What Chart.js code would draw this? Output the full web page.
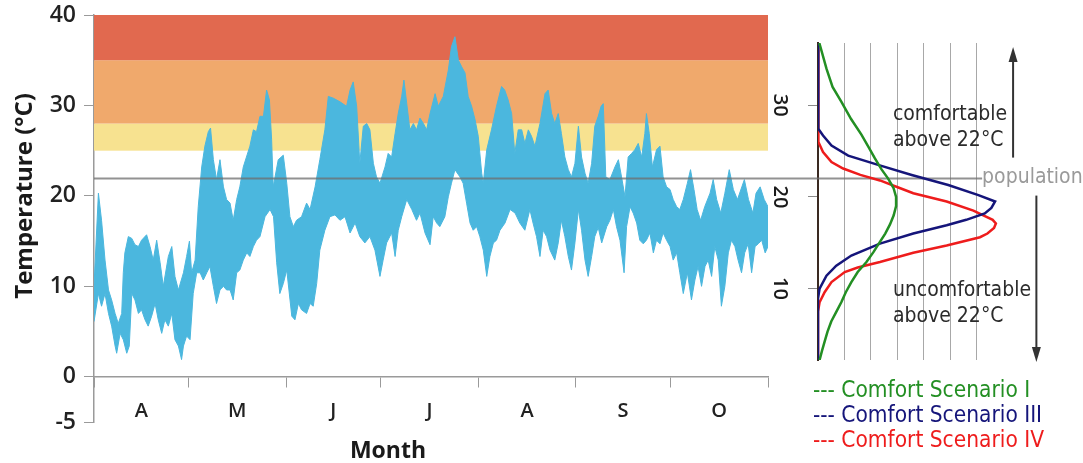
<!DOCTYPE html>
<html>
<head>
<meta charset="utf-8">
<title>Daily temperature range and comfort scenarios</title>
<script src="https://cdn.jsdelivr.net/npm/chart.js@4.4.0/dist/chart.umd.min.js"></script>
<style>
  html, body { margin: 0; padding: 0; background: #ffffff; }
  #wrap { position: relative; width: 1083px; height: 463px; }
  #wrap canvas { position: absolute; left: 0; top: 0; }
  #dist { pointer-events: none; }
</style>
</head>
<body>
<div id="wrap">
  <canvas id="main" width="1083" height="463"></canvas>
  <canvas id="dist" width="1083" height="463"></canvas>
</div>
<script>
// ---- Season axis: days counted from 1 April ----
const monthStartDays = [0, 30, 61, 91, 122, 153, 183, 214];
const monthLabels = ['A', 'M', 'J', 'J', 'A', 'S', 'O'];
const temperatureTicks = [-5, 0, 10, 20, 30, 40];
// comfort bands (°C): 25–28, 28–35, 35–40
const bandLimits = [25, 28, 35, 40];
const referenceTemp = 22;

// ---- Daily maximum envelope ----
const upperDays = [0,1.4,2.4,3.5,4.6,5.6,6.7,7.7,8.8,9.3,9.8,10.9,12.0,13.0,14.1,15.1,16.7,17.8,18.8,19.9,21.0,22.0,23.6,24.7,25.7,26.8,28.4,29.4,30.3,31.0,32.1,33.1,34.2,35.2,36.3,37.0,37.9,38.9,40.0,41.1,42.1,43.2,44.2,45.3,46.3,47.4,49.5,50.6,51.6,52.7,53.8,54.8,55.7,56.4,56.9,58.5,60.1,61.2,62.2,63.3,64.3,65.9,67.5,68.6,70.2,71.7,73.3,74.4,76.0,78.1,80.2,81.3,82.3,83.4,84.4,85.5,86.6,87.6,88.7,89.7,90.8,92.4,93.4,94.5,95.6,96.6,97.7,98.4,99.3,100.3,101.4,102.4,103.5,104.6,105.6,106.7,108.3,109.3,110.9,112.5,113.5,114.6,115.7,116.7,117.8,118.8,119.9,121.0,122.0,123.1,123.6,124.7,126.2,127.8,129.4,130.4,131.5,132.6,133.6,134.7,135.8,136.8,137.9,138.9,140.0,141.6,143.2,144.2,145.3,146.3,147.4,148.4,149.5,150.6,151.6,152.7,153.8,154.8,155.9,156.9,158.0,159.0,160.1,161.0,161.7,162.5,163.8,165.4,166.5,167.5,168.6,169.6,170.7,171.7,172.8,173.9,174.9,175.4,176.3,177.3,178.6,179.7,180.7,181.8,182.9,183.9,185.0,186.0,187.1,188.4,189.4,190.5,191.5,192.6,193.9,195.6,196.6,197.7,199.0,200.3,201.7,203.0,204.3,205.7,206.5,207.8,209.2,210.2,211.5,212.8,214.0];
const upperTemps = [10.0,20.3,17.3,12.9,9.6,8.5,7.0,5.9,7.0,11.5,13.7,15.5,15.3,14.6,14.4,15.1,15.7,14.4,12.9,15.1,12.6,10.0,13.3,14.4,11.1,9.6,11.5,13.3,15.0,11.5,12.9,18.8,23.2,25.5,27.1,27.5,24.0,21.8,24.0,21.0,19.6,19.2,17.3,19.6,21.0,23.2,25.5,27.3,27.1,28.8,28.8,31.7,30.6,26.2,21.0,24.0,24.5,21.4,17.7,16.6,17.3,17.7,19.2,18.5,21.0,24.0,27.3,31.0,30.8,30.4,29.9,31.7,32.6,29.9,23.6,27.7,28.0,27.3,23.6,22.1,21.4,23.2,24.7,24.3,26.9,29.1,31.0,32.8,30.2,27.3,28.0,27.3,28.6,28.0,27.3,29.1,31.3,29.9,31.0,33.9,36.5,37.6,35.0,34.3,33.6,31.0,29.9,28.4,26.6,22.5,21.4,25.1,27.3,29.9,32.1,31.7,30.6,29.1,24.7,27.3,27.3,25.8,27.3,26.6,25.5,28.0,31.3,31.7,29.1,28.0,29.1,26.9,24.3,22.9,22.1,23.6,27.7,24.3,22.5,21.4,23.6,27.7,28.8,29.9,30.2,22.1,21.8,23.2,24.0,22.1,19.9,24.3,24.7,25.1,25.8,24.3,26.9,29.1,26.9,23.2,25.1,25.5,22.1,21.0,20.7,19.6,18.8,18.5,19.6,21.4,22.9,20.7,18.5,17.3,18.8,20.3,21.8,19.6,18.1,20.3,22.9,20.7,19.6,21.0,21.8,19.6,18.1,20.3,21.0,19.6,18.8];

// ---- Daily minimum envelope ----
const lowerDays = [0,1.4,2.4,3.5,4.6,5.6,6.7,7.2,8.3,9.3,10.4,11.2,12.0,13.0,14.1,15.1,16.2,17.2,18.3,19.4,20.4,21.5,22.5,23.6,24.7,25.7,26.8,27.8,28.4,29.4,30.5,31.5,32.6,33.7,34.7,35.8,36.8,37.9,38.9,40.0,41.1,42.1,43.2,44.2,45.3,46.3,47.4,48.5,49.5,50.6,51.6,52.7,54.3,55.9,57.0,58.0,59.0,60.1,61.2,62.8,63.8,64.9,65.9,67.5,68.6,69.6,70.7,71.7,73.3,74.9,76.5,78.1,79.7,81.3,82.9,84.4,86.0,87.6,89.2,90.8,91.8,92.9,94.5,95.6,96.6,97.7,99.3,100.9,102.4,103.5,105.1,106.7,107.7,108.8,109.8,111.4,112.5,113.5,114.6,116.2,117.2,118.3,119.4,120.4,121.5,122.5,123.6,124.7,125.7,126.8,127.8,128.9,130.5,132.1,133.7,135.2,136.8,138.4,139.4,140.5,141.6,142.6,143.7,144.8,146.3,147.4,148.4,149.5,150.6,151.6,152.7,153.8,154.8,155.9,156.9,158.0,159.0,160.1,161.2,162.8,163.8,164.9,165.9,167.0,168.3,169.1,170.2,171.2,172.3,173.3,174.4,175.4,176.5,177.6,178.6,179.7,180.7,181.8,182.9,183.9,185.0,186.0,187.1,188.4,189.7,190.8,191.8,192.9,194.0,195.0,196.1,197.1,198.2,199.2,200.3,201.4,202.4,203.5,204.5,205.6,206.6,207.7,208.8,209.9,210.9,212.0,213.1,214.0];
const lowerTemps = [6.1,9.2,7.8,9.2,7.0,5.6,3.4,2.6,4.8,4.1,2.6,3.4,9.2,8.5,7.0,7.4,6.3,5.6,6.7,8.1,6.3,4.8,6.3,5.6,7.0,4.1,3.4,1.9,3.4,4.5,4.1,9.2,11.5,11.5,10.7,11.5,12.2,10.0,8.1,9.6,10.0,9.6,9.6,8.5,11.5,11.8,12.9,13.7,13.3,14.4,15.1,15.5,17.7,18.5,17.7,12.6,9.2,10.3,11.8,6.7,6.3,8.1,7.4,7.0,8.1,7.8,10.3,14.0,16.2,17.7,17.9,17.3,17.7,15.9,17.0,15.5,14.8,15.5,14.0,11.1,12.9,14.8,15.9,13.3,16.2,17.7,19.6,18.5,17.3,18.1,15.9,14.6,17.7,17.0,16.6,17.7,19.9,21.4,22.9,22.1,21.4,19.2,17.0,16.2,16.6,15.5,14.0,11.1,13.3,14.8,15.1,16.2,17.0,18.5,18.1,17.0,16.2,18.5,17.0,15.5,13.3,16.2,15.5,14.0,12.9,14.8,17.3,15.5,13.3,11.8,14.8,18.5,16.2,12.9,11.1,13.3,15.5,16.5,14.8,16.6,17.3,18.5,16.6,15.1,11.5,16.6,18.8,18.1,17.0,15.1,14.7,15.1,15.9,13.7,15.1,14.7,15.9,15.1,14.4,12.9,13.7,11.5,9.2,11.5,8.5,10.7,12.2,10.0,12.2,12.9,11.1,14.4,12.9,7.8,10.0,13.7,15.1,14.4,12.9,11.5,13.7,14.7,11.5,14.4,14.7,15.1,13.7,14.4];

// ---- Population distribution over indoor temperature (share per °C) ----
const scenarioITemps  = [36.8,34.0,32.0,30.4,28.5,26.8,25.5,24.2,23.0,22.0,21.0,20.0,19.0,18.0,17.0,16.0,15.1,14.0,12.9,11.8,10.7,9.6,8.5,7.4,6.4,5.3,4.2,3.2,2.2];
const scenarioIShare  = [0.05,0.32,0.55,0.88,1.25,1.64,1.9,2.15,2.4,2.65,2.85,2.95,2.95,2.86,2.72,2.54,2.34,2.1,1.83,1.5,1.26,1.05,0.88,0.68,0.5,0.36,0.25,0.15,0.06];
const scenarioIIITemps = [36.8,28.0,27.45,26.7,25.6,24.5,23.5,22.4,21.3,20.2,19.5,18.8,18.2,17.5,16.9,16.0,14.9,13.6,12.5,11.4,10.0,8.9,2.2];
const scenarioIIIShare = [0,0,0.02,0.19,0.51,1.14,2.27,3.54,4.92,6.06,6.69,6.55,6.3,5.6,4.86,3.6,2.34,1.26,0.69,0.32,0.06,0,0];
const scenarioIVTemps  = [36.8,27.0,26.0,24.9,23.8,23.1,22.4,21.8,21.0,20.4,19.5,18.5,17.5,17.1,16.6,16.0,15.6,14.7,13.9,12.9,12.3,11.8,10.7,9.6,8.5,7.5,2.2];
const scenarioIVShare  = [0,0,0.03,0.19,0.51,0.95,1.6,2.34,3.06,3.6,4.86,5.87,6.6,6.72,6.65,6.4,6.12,4.86,3.6,2.34,1.5,1.01,0.51,0.25,0.06,0,0];

const monthMidDays = monthLabels.map((_, i) => (monthStartDays[i] + monthStartDays[i + 1]) / 2);
const toPoints = (xs, ys) => xs.map((x, i) => ({ x: x, y: ys[i] }));

const AXIS_GREY = '#9a9a9a';
const TICK_FONT = { family: '"Open Sans", "Liberation Sans", sans-serif', size: 23, weight: '600' };
const NOTE_FONT = '21px "DejaVu Sans Condensed", "DejaVu Sans", sans-serif';
const LEGEND_FONT = '22.5px "DejaVu Sans Condensed", "DejaVu Sans", sans-serif';

// coloured comfort bands behind the temperature range
const bandsPlugin = {
  id: 'comfortBands',
  beforeDatasetsDraw(chart) {
    const { ctx, chartArea, scales: { y } } = chart;
    const colours = ['#f7e290', '#f0a96c', '#e1694f'];
    ctx.save();
    for (let i = 0; i < bandLimits.length - 1; i++) {
      const top = y.getPixelForValue(bandLimits[i + 1]);
      const bottom = y.getPixelForValue(bandLimits[i]);
      ctx.fillStyle = colours[i];
      ctx.fillRect(chartArea.left, top, chartArea.right - chartArea.left, bottom - top);
    }
    ctx.restore();
  }
};

// axis titles
const titlesPlugin = {
  id: 'axisTitles',
  afterDraw(chart) {
    const { ctx, chartArea, scales: { y } } = chart;
    ctx.save();
    ctx.fillStyle = '#1a1a1a';
    ctx.font = 'bold 24px "Open Sans", "Liberation Sans", sans-serif';
    ctx.textAlign = 'center';
    ctx.textBaseline = 'middle';
    const midY = (y.getPixelForValue(40) + y.getPixelForValue(0)) / 2;
    ctx.translate(25, midY);
    ctx.rotate(-Math.PI / 2);
    ctx.fillText('Temperature (°C)', 0, 0);
    ctx.restore();

    ctx.save();
    ctx.fillStyle = '#1a1a1a';
    ctx.font = 'bold 23px "Open Sans", "Liberation Sans", sans-serif';
    ctx.textAlign = 'center';
    ctx.textBaseline = 'alphabetic';
    ctx.fillText('Month', chartArea.left + 294, 458);
    ctx.restore();
  }
};

const mainChart = new Chart(document.getElementById('main'), {
  type: 'line',
  data: {
    datasets: [
      {
        label: 'Daily maximum',
        data: toPoints(upperDays, upperTemps),
        fill: '+1',
        backgroundColor: '#4bb7de',
        borderColor: '#4bb7de',
        borderWidth: 1,
        pointRadius: 0,
        tension: 0
      },
      {
        label: 'Daily minimum',
        data: toPoints(lowerDays, lowerTemps),
        fill: false,
        borderColor: '#4bb7de',
        borderWidth: 1,
        pointRadius: 0,
        tension: 0
      }
    ]
  },
  options: {
    responsive: false,
    animation: false,
    events: [],
    layout: { padding: { top: 15, bottom: 41, left: 0, right: 315 } },
    plugins: { legend: { display: false }, tooltip: { enabled: false } },
    scales: {
      x: {
        type: 'linear',
        min: 0,
        max: 214,
        position: { y: 0 },
        afterFit(scale) { scale.height = 0; scale.paddingLeft = 0; scale.paddingRight = 0; },
        afterBuildTicks(scale) {
          scale.ticks = monthStartDays.concat(monthMidDays).sort((a, b) => a - b).map(v => ({ value: v }));
        },
        ticks: {
          autoSkip: false,
          maxRotation: 0,
          padding: 13,
          color: '#222222',
          font: { family: '"Open Sans", "Liberation Sans", sans-serif', size: 20, weight: '600' },
          callback(value) {
            const i = monthMidDays.indexOf(value);
            return i >= 0 ? monthLabels[i] : '';
          }
        },
        grid: {
          drawOnChartArea: false,
          drawTicks: true,
          tickLength: 10,
          tickWidth: 1,
          tickColor: (ctx) => (ctx.tick && monthStartDays.includes(ctx.tick.value)) ? AXIS_GREY : 'rgba(0,0,0,0)'
        },
        border: { display: true, color: AXIS_GREY, width: 1.5 }
      },
      y: {
        type: 'linear',
        min: -5,
        max: 40,
        afterFit(scale) { scale.width = 94; scale.paddingTop = 0; scale.paddingBottom = 0; },
        afterBuildTicks(scale) { scale.ticks = temperatureTicks.map(v => ({ value: v })); },
        ticks: { color: '#222222', font: TICK_FONT, padding: 8 },
        grid: { drawOnChartArea: false, drawTicks: true, tickLength: 10, tickColor: AXIS_GREY },
        border: { display: true, color: AXIS_GREY, width: 1.5 }
      }
    }
  },
  plugins: [bandsPlugin, titlesPlugin]
});

// ---- distribution panel ----
const distPlugin = {
  id: 'distAnnotations',
  beforeDatasetsDraw(chart) {
    const { ctx, scales: { x, y } } = chart;
    const refY = y.getPixelForValue(referenceTemp);
    const endX = x.getPixelForValue(6.2);
    ctx.save();
    ctx.strokeStyle = 'rgba(110,110,110,0.75)';
    ctx.lineWidth = 2;
    ctx.beginPath();
    ctx.moveTo(mainChart.chartArea.left, refY);
    ctx.lineTo(endX, refY);
    ctx.stroke();
    ctx.fillStyle = '#9a9a9a';
    ctx.font = NOTE_FONT;
    ctx.textAlign = 'left';
    ctx.textBaseline = 'alphabetic';
    ctx.fillText('population', endX, refY + 4);
    ctx.restore();
  },
  afterDraw(chart) {
    const { ctx, chartArea, scales: { x, y } } = chart;
    const refY = y.getPixelForValue(referenceTemp);
    ctx.save();

    // rotated temperature labels
    ctx.fillStyle = '#1a1a1a';
    ctx.font = '600 20px "Open Sans", "Liberation Sans", sans-serif';
    ctx.textAlign = 'center';
    ctx.textBaseline = 'middle';
    [10, 20, 30].forEach(v => {
      ctx.save();
      ctx.translate(chartArea.left - 38, y.getPixelForValue(v));
      ctx.rotate(Math.PI / 2);
      ctx.fillText(String(v), 0, 0);
      ctx.restore();
    });

    // comfort notes
    const noteX = x.getPixelForValue(2.83);
    ctx.fillStyle = '#2b2b2b';
    ctx.font = NOTE_FONT;
    ctx.textAlign = 'left';
    ctx.textBaseline = 'alphabetic';
    ctx.fillText('comfortable', noteX, refY - 59);
    ctx.fillText('above 22°C', noteX, refY - 33);
    ctx.fillText('uncomfortable', noteX, refY + 117);
    ctx.fillText('above 22°C', noteX, refY + 143);

    // arrows
    const arrow = (ax, y0, y1) => {
      const dir = y1 < y0 ? -1 : 1;
      ctx.strokeStyle = '#333333';
      ctx.fillStyle = '#333333';
      ctx.lineWidth = 2;
      ctx.beginPath();
      ctx.moveTo(ax, y0);
      ctx.lineTo(ax, y1 - dir * 12);
      ctx.stroke();
      ctx.beginPath();
      ctx.moveTo(ax, y1);
      ctx.lineTo(ax - 4.5, y1 - dir * 15);
      ctx.lineTo(ax + 4.5, y1 - dir * 15);
      ctx.closePath();
      ctx.fill();
    };
    arrow(x.getPixelForValue(7.37), refY - 21, chartArea.top + 4);
    arrow(x.getPixelForValue(8.25), refY + 17, chartArea.bottom + 2);

    // legend
    ctx.font = LEGEND_FONT;
    chart.data.datasets.forEach((ds, i) => {
      ctx.fillStyle = ds.borderColor;
      ctx.fillText('--- ' + ds.label, chartArea.left - 5, chartArea.bottom + 37 + i * 25);
    });
    ctx.restore();
  }
};

new Chart(document.getElementById('dist'), {
  type: 'line',
  data: {
    datasets: [
      { label: 'Comfort Scenario I', data: toPoints(scenarioIShare, scenarioITemps), borderColor: '#238f23' },
      { label: 'Comfort Scenario III', data: toPoints(scenarioIIIShare, scenarioIIITemps), borderColor: '#15157a' },
      { label: 'Comfort Scenario IV', data: toPoints(scenarioIVShare, scenarioIVTemps), borderColor: '#ee1c1c' }
    ].map(ds => Object.assign(ds, { fill: false, borderWidth: 2.5, pointRadius: 0, tension: 0 }))
  },
  options: {
    responsive: false,
    animation: false,
    events: [],
    indexAxis: 'y',
    layout: { padding: { top: 43, bottom: 103, left: 808, right: 40 } },
    plugins: { legend: { display: false }, tooltip: { enabled: false } },
    scales: {
      x: {
        type: 'linear',
        min: 0,
        max: 8.5,
        position: 'bottom',
        afterFit(scale) { scale.height = 0; scale.paddingLeft = 0; scale.paddingRight = 0; },
        afterBuildTicks(scale) { scale.ticks = [0, 1, 2, 3, 4, 5, 6].map(v => ({ value: v })); },
        ticks: { display: false },
        grid: { drawTicks: false, color: '#a8a8a8', lineWidth: 1 },
        border: { display: false }
      },
      y: {
        type: 'linear',
        min: 2.2,
        max: 36.8,
        position: 'left',
        afterFit(scale) { scale.width = 10; scale.paddingTop = 0; scale.paddingBottom = 0; },
        afterBuildTicks(scale) { scale.ticks = [10, 20, 30].map(v => ({ value: v })); },
        ticks: { display: false },
        grid: { drawOnChartArea: false, drawTicks: true, tickLength: 10, tickColor: '#8a8a8a' },
        border: { display: true, color: '#3a2a22', width: 2 }
      }
    }
  },
  plugins: [distPlugin]
});
</script>
</body>
</html>
